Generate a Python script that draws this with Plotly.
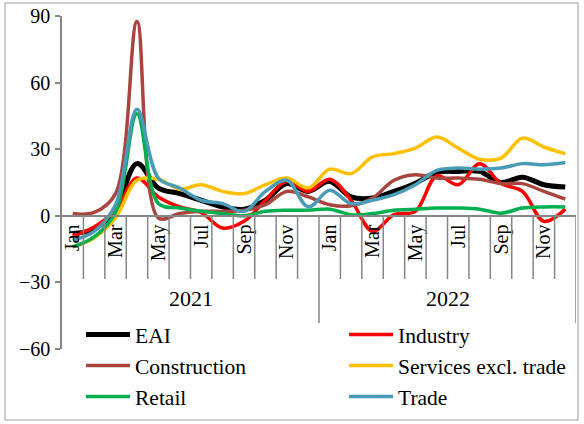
import plotly.graph_objects as go

# ---------------- data ----------------
years = ["2021", "2022"]
months = ["Jan", "Feb", "Mar", "Apr", "May", "Jun", "Jul", "Aug", "Sep", "Oct", "Nov", "Dec"]

eai = [-8, -6, 3, 23.5, 12.5, 10, 7, 4, 3, 7, 14.5, 11,
       15.5, 8.5, 8, 11, 14.7, 19.5, 20, 20, 15, 17.4, 14, 13]
industry = [-9, -5, 2.5, 17, 8.5, 4, 1.5, -5.5, -2.5, 7, 15.5, 11,
            16.5, 7, -7, 0.5, 2, 18, 14, 23.5, 14.5, 11, -2.5, 3]
construction = [1, 1.5, 10, 87.5, -1, 1, 2, 2, 2.5, 5, 11, 8.5,
                5, 4.5, 8, 16, 18.5, 17, 17, 16.5, 14.5, 14.5, 11, 7.5]
services = [-14, -10, -1, 16, 16.5, 12, 14, 11, 10, 14, 17, 12.5,
            21, 19, 26.5, 28, 30.5, 35.5, 30.5, 25.5, 26, 35, 31, 28]
retail = [-14, -9.5, 1.5, 46, 5.5, 3.5, 2, 1, 0, 2, 2.5, 2.5,
          3, 0.5, 1, 2.5, 3, 3.5, 3.5, 3, 1.2, 3.5, 4, 4]
trade = [-11, -7, 5, 48, 17, 12.5, 7, 5.5, 2, 11, 16, 4,
         11.5, 5.5, 7, 9.5, 14, 20.5, 21.5, 21, 21.5, 23.5, 23, 24]

y_ticks = [-60, -30, 0, 30, 60, 90]

series = [
    ("EAI", eai, "#000000", 5, "legend"),
    ("Industry", industry, "#FF0000", 3.5, "legend2"),
    ("Construction", construction, "#A9443F", 3.5, "legend"),
    ("Services excl. trade", services, "#FFC000", 3.5, "legend2"),
    ("Retail", retail, "#00B050", 3.5, "legend"),
    ("Trade", trade, "#4A9BB5", 3.5, "legend2"),
]

# ---------------- figure ----------------
periods = [(y, m) for y in years for m in months]
x_idx = list(range(len(periods)))

FONT = "Liberation Serif"
FS = 20
LFS = 21.5
AX = "#868686"

W, H = 584, 424
L, R, T, B = 62, 8, 16, 75
PW, PH = W - L - R, H - T - B


def px(p):  # pixel x -> paper
    return (p - L) / PW


def py(q):  # pixel y -> paper
    return (H - B - q) / PH


fig = go.Figure()
for name, vals, color, w, lg in series:
    fig.add_trace(go.Scatter(
        x=x_idx, y=vals, name=name, mode="lines",
        line=dict(color=color, width=w, shape="spline", smoothing=1),
        legend=lg, legendgroup=name, hoverinfo="skip",
    ))

tickvals = [i for i in x_idx if i % 2 == 0]
ticktext = [periods[i][1] for i in tickvals]

ymin, ymax = min(y_ticks), max(y_ticks)
zero_pos = (0 - ymin) / (ymax - ymin)

shapes = []
n = len(periods)
for k in range(1, n + 1):
    xb = k - 0.5
    long = (k % len(months) == 0)
    shapes.append(dict(type="line", xref="x", yref="paper",
                       x0=xb, x1=xb, y0=zero_pos, y1=py(323) if long else py(279),
                       line=dict(color=AX, width=1.5)))
# chart border
shapes.append(dict(type="rect", xref="paper", yref="paper",
                   x0=px(5), x1=px(578), y0=py(420), y1=py(3),
                   line=dict(color="#BFBFBF", width=1.5)))

annotations = []
for yr in years:
    idxs = [i for i, p in enumerate(periods) if p[0] == yr]
    annotations.append(dict(x=sum(idxs) / len(idxs), y=py(298), xref="x", yref="paper",
                            xanchor="center", yanchor="middle",
                            text=yr, showarrow=False,
                            font=dict(family=FONT, size=22, color="black")))

legend_common = dict(yanchor="top", xanchor="left", orientation="v", tracegroupgap=0,
                     bgcolor="rgba(0,0,0,0)", itemwidth=44,
                     font=dict(family=FONT, size=LFS, color="black"))

fig.update_layout(
    width=W, height=H,
    margin=dict(l=L, r=R, t=T, b=B, autoexpand=False),
    paper_bgcolor="white", plot_bgcolor="white",
    font=dict(family=FONT, size=FS, color="black"),
    xaxis=dict(range=[-0.5, n - 0.5], tickvals=tickvals, ticktext=ticktext,
               tickangle=-90, anchor="free", position=zero_pos,
               showline=True, linecolor=AX, linewidth=1.5, ticks="",
               showgrid=False, zeroline=False, automargin=False,
               tickfont=dict(family=FONT, size=FS, color="black")),
    yaxis=dict(range=[ymin, ymax], tickvals=y_ticks, showline=True, linecolor=AX,
               linewidth=1.5, ticks="outside", ticklen=5, tickcolor=AX, tickwidth=1.5,
               ticklabelstandoff=1, automargin=False,
               showgrid=False, zeroline=False,
               tickfont=dict(family=FONT, size=FS, color="black")),
    legend=dict(x=px(81), y=py(314), **legend_common),
    legend2=dict(x=px(344), y=py(314), **legend_common),
    shapes=shapes,
    annotations=annotations,
    showlegend=True,
)

fig.write_html("out.html", config={"displayModeBar": False},
               post_script="document.body.style.margin='0';document.body.style.overflow='hidden';")
